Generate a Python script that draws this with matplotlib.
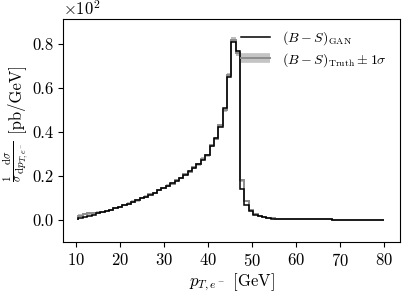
import matplotlib
matplotlib.use("Agg")
import matplotlib.pyplot as plt
import numpy as np
from matplotlib.lines import Line2D

plt.rcParams.update({
    "font.family": "serif",
    "font.serif": ["cmr10"],
    "mathtext.fontset": "cm",
    "axes.formatter.use_mathtext": True,
    "font.size": 12,
})

# histogram binning (p_T of the electron, GeV)
bin_lo, bin_hi, n_bins = 10.5, 80.0, 70

# (B - S) from the GAN, in units of 10^2 pb/GeV
gan = [0.008, 0.015, 0.020, 0.025, 0.030, 0.035, 0.040, 0.047, 0.054, 0.061,
       0.068, 0.075, 0.083, 0.091, 0.099, 0.107, 0.116, 0.125, 0.135, 0.145,
       0.156, 0.167, 0.179, 0.192, 0.206, 0.221, 0.237, 0.255, 0.275, 0.298,
       0.335, 0.375, 0.425, 0.510, 0.650, 0.810, 0.770, 0.140, 0.070, 0.040,
       0.025, 0.017, 0.012, 0.009, 0.007, 0.006, 0.005, 0.0045, 0.004, 0.0037,
       0.0035, 0.0033, 0.0031, 0.003, 0.0029, 0.0028, 0.0027, 0.0026, 0.0025, 0.0024,
       0.0023, 0.0023, 0.0022, 0.0022, 0.0021, 0.0021, 0.002, 0.002, 0.002, 0.002]

# (B - S) truth and its 1 sigma uncertainty
truth = [0.020, 0.028, 0.030, 0.030, 0.033, 0.036, 0.042, 0.046, 0.055, 0.060,
         0.069, 0.074, 0.084, 0.090, 0.100, 0.106, 0.118, 0.123, 0.136, 0.146,
         0.157, 0.166, 0.180, 0.191, 0.208, 0.220, 0.240, 0.253, 0.278, 0.295,
         0.340, 0.370, 0.430, 0.500, 0.660, 0.820, 0.760, 0.180, 0.085, 0.045,
         0.027, 0.018, 0.013, 0.010, 0.008, 0.006, 0.0052, 0.0046, 0.0042, 0.0038,
         0.0035, 0.0033, 0.0031, 0.003, 0.0029, 0.0028, 0.0027, 0.0026, 0.0025, 0.0024,
         0.0023, 0.0023, 0.0022, 0.0022, 0.0021, 0.0021, 0.002, 0.002, 0.002, 0.002]
truth_err = [0.006, 0.006, 0.006, 0.006, 0.006, 0.006, 0.006, 0.006, 0.006, 0.006,
             0.006, 0.006, 0.006, 0.006, 0.006, 0.006, 0.006, 0.006, 0.006, 0.006,
             0.006, 0.006, 0.006, 0.006, 0.006, 0.006, 0.007, 0.007, 0.007, 0.007,
             0.008, 0.008, 0.008, 0.009, 0.010, 0.012, 0.012, 0.006, 0.005, 0.004,
             0.003, 0.003, 0.002, 0.002, 0.002, 0.002, 0.002, 0.002, 0.002, 0.002,
             0.002, 0.002, 0.002, 0.002, 0.002, 0.002, 0.002, 0.002, 0.002, 0.002,
             0.002, 0.002, 0.002, 0.002, 0.002, 0.002, 0.002, 0.002, 0.002, 0.002]

edges = np.linspace(bin_lo, bin_hi, n_bins + 1)
gan = np.array(gan)
truth = np.array(truth)
truth_err = np.array(truth_err)

fig = plt.figure(figsize=(4.07, 2.92), dpi=100)
ax = fig.add_axes([0.155, 0.171, 0.828, 0.764])

# truth band and line
ax.fill_between(edges, np.append(truth - truth_err, truth[-1] - truth_err[-1]),
                np.append(truth + truth_err, truth[-1] + truth_err[-1]),
                step="post", color="#bbbbbb", lw=0)
ax.stairs(truth, edges, color="#8c8c8c", lw=1.4)
# GAN line
ax.stairs(gan, edges, color="black", lw=1.1)

ax.set_xlim(7.0, 83.6)
ax.set_ylim(-0.1, 0.914)
ax.set_xticks([10, 20, 30, 40, 50, 60, 70, 80])
ax.set_yticks([0.0, 0.2, 0.4, 0.6, 0.8])
ax.set_yticklabels(["0.0", "0.2", "0.4", "0.6", "0.8"])
ax.set_xlabel(r"$p_{T,e^-}$ [GeV]", labelpad=2)

# y label: fraction followed by the unit
fig.text(16 / 407, 1 - 161 / 292,
         r"$\frac{1}{\sigma}\frac{\mathrm{d}\sigma}{\mathrm{d}p_{T,e^-}}$",
         rotation=90, ha="center", va="center", fontsize=11.5)
fig.text(15 / 407, 1 - 97 / 292, "[pb/GeV]", rotation=90,
         ha="center", va="center", fontsize=12)

ax.text(0.0, 1.005, r"$\times10^{2}$", transform=ax.transAxes, ha="left", va="bottom")

handles = [Line2D([], [], color="black", lw=1.1),
           (Line2D([], [], color="#c4c4c4", lw=7, solid_capstyle="butt"),
            Line2D([], [], color="#8c8c8c", lw=1.4))]
labels = [r"$(B-S)_{\rm GAN}$", r"$(B-S)_{\rm Truth}\pm1\sigma$"]
ax.legend(handles, labels, loc="upper left", bbox_to_anchor=(0.528, 0.955),
          frameon=False, fontsize=10, handlelength=2.1, handletextpad=0.86,
          labelspacing=0.3, borderpad=0, borderaxespad=0)

fig.savefig("out.png", dpi=100)
